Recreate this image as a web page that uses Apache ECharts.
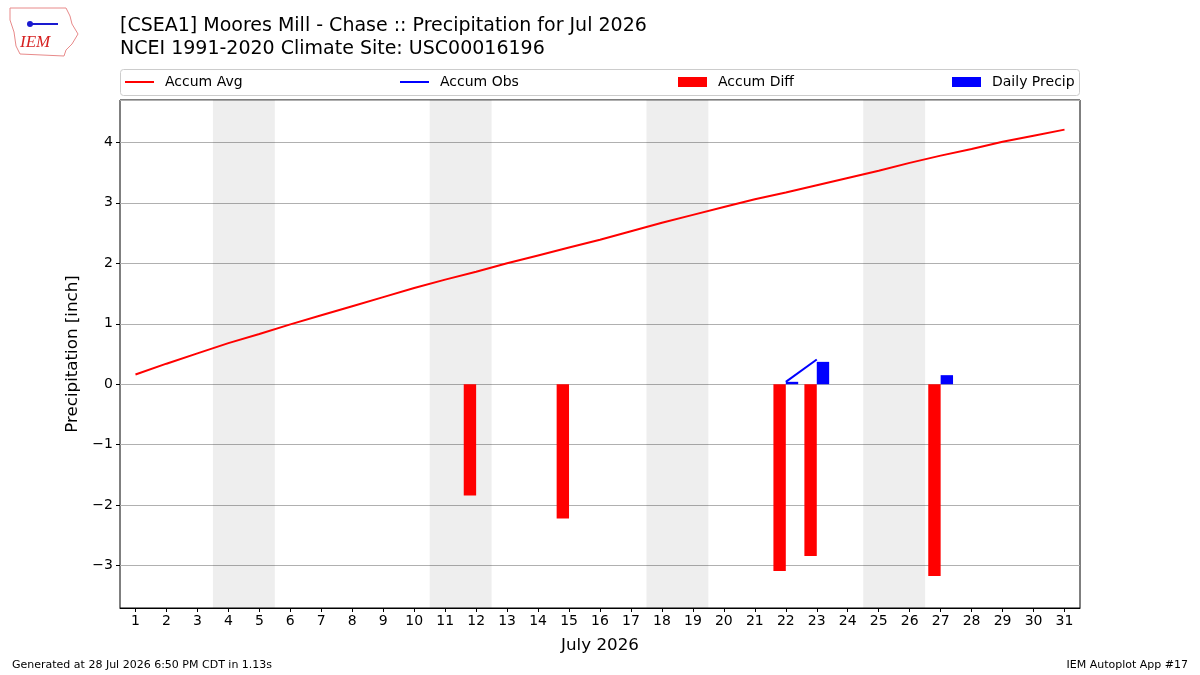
<!DOCTYPE html>
<html>
<head>
<meta charset="utf-8">
<script src="https://cdn.jsdelivr.net/npm/echarts@6/dist/echarts.min.js"></script>
<style>
  html, body { margin: 0; padding: 0; background: #fff; }
  #chart { width: 1200px; height: 675px; }
</style>
</head>
<body>
<div id="chart"></div>
<script>
// July 2026 days
const days = [];
for (let d = 1; d <= 31; d++) days.push(String(d));

// accumulated climatology (inch)
const accumAvg = [0.16, 0.34, 0.51, 0.68, 0.83, 0.99, 1.14, 1.29, 1.44, 1.59,
  1.73, 1.86, 2.0, 2.13, 2.26, 2.39, 2.53, 2.67, 2.8, 2.93,
  3.06, 3.17, 3.29, 3.41, 3.53, 3.66, 3.78, 3.89, 4.01, 4.11, 4.21];

// observed accumulation, only days with a report
const accumObs = [null, null, null, null, null, null, null, null, null, null,
  null, 0, null, null, 0, null, null, null, null, null,
  null, 0.04, 0.41, null, null, null, 0.56, null, null, null, null];

// obs minus climatology
const accumDiff = [null, null, null, null, null, null, null, null, null, null,
  null, -1.84, null, null, -2.22, null, null, null, null, null,
  null, -3.09, -2.84, null, null, null, -3.17, null, null, null, null];

const dailyPrecip = [null, null, null, null, null, null, null, null, null, null,
  null, null, null, null, null, null, null, null, null, null,
  null, 0.04, 0.37, null, null, null, 0.15, null, null, null, null];

// weekend days shaded
const weekends = [[4, 5], [11, 12], [18, 19], [25, 26]];

const chart = echarts.init(document.getElementById("chart"));
const font = "DejaVu Sans";

function legendAt(left, name, h) {
  return {
    left: left,
    top: 75,
    padding: 0,
    data: [{ name: name, icon: "rect" }],
    itemWidth: 29,
    itemHeight: h,
    itemGap: 0,
    textStyle: { fontFamily: font, fontSize: 14, color: "#000", padding: [0, 0, 0, 6] },
    selectedMode: false
  };
}

const option = {
  animation: false,
  backgroundColor: "#fff",
  title: [
    {
      text: "[CSEA1] Moores Mill - Chase :: Precipitation for Jul 2026\nNCEI 1991-2020 Climate Site: USC00016196",
      left: 120,
      top: 15,
      padding: 0,
      textStyle: { fontFamily: font, fontSize: 19, fontWeight: "normal", color: "#000", lineHeight: 23 }
    },
    {
      text: "Generated at 28 Jul 2026 6:50 PM CDT in 1.13s",
      left: 12,
      top: 660,
      padding: 0,
      textStyle: { fontFamily: font, fontSize: 11, fontWeight: "normal", color: "#000" }
    },
    {
      text: "IEM Autoplot App #17",
      right: 12,
      top: 660,
      padding: 0,
      textStyle: { fontFamily: font, fontSize: 11, fontWeight: "normal", color: "#000" }
    }
  ],
  graphic: [
    {
      type: "rect",
      shape: { x: 120.5, y: 69.5, width: 959, height: 26, r: 3 },
      style: { fill: "#fff", stroke: "#cccccc", lineWidth: 1 },
      z: -10
    },
    {
      type: "polyline",
      shape: {
        points: [[10, 8], [66, 8], [70, 16], [72, 24], [78, 34], [72, 44], [66, 50], [64, 56], [20, 54], [16, 46], [14, 32], [10, 20], [10, 8]]
      },
      style: { stroke: "#e88a8a", fill: "none", lineWidth: 1 }
    },
    {
      type: "text",
      left: 20,
      top: 34,
      style: { text: "IEM", fill: "#d62020", font: "italic 17px 'Liberation Serif'" }
    },
    {
      type: "polyline",
      shape: { points: [[30, 24], [58, 24]] },
      style: { stroke: "#1a1ad0", lineWidth: 2 }
    },
    {
      type: "circle",
      shape: { cx: 30, cy: 24, r: 3 },
      style: { fill: "#1a1ad0" }
    }
  ],
  legend: [
    legendAt(125, "Accum Avg", 2),
    legendAt(400, "Accum Obs", 2),
    legendAt(678, "Accum Diff", 10),
    legendAt(952, "Daily Precip", 10)
  ],
  grid: {
    left: 120,
    right: 120,
    top: 100,
    bottom: 67,
    show: true,
    borderColor: "#000",
    borderWidth: 1,
    backgroundColor: "transparent"
  },
  xAxis: [
    {
      type: "category",
      data: days,
      boundaryGap: true,
      name: "July 2026",
      nameLocation: "middle",
      nameGap: 29,
      nameTextStyle: { fontFamily: font, fontSize: 16.7, color: "#000" },
      axisLine: { show: true, onZero: false, lineStyle: { color: "#000" } },
      axisTick: { show: true, alignWithLabel: true, length: 4, lineStyle: { color: "#000" } },
      axisLabel: { fontFamily: font, fontSize: 14, color: "#000", margin: 6, interval: 0 },
      splitLine: { show: false }
    },
    {
      type: "value",
      min: 0.5,
      max: 31.5,
      show: false
    }
  ],
  yAxis: {
    type: "value",
    min: -3.7,
    max: 4.7,
    minInterval: 1,
    maxInterval: 1,
    name: "Precipitation [inch]",
    nameLocation: "middle",
    nameRotate: 90,
    nameGap: 36,
    nameTextStyle: { fontFamily: font, fontSize: 16.7, color: "#000" },
    axisLine: { show: false },
    axisTick: { show: true, length: 4, lineStyle: { color: "#000" } },
    axisLabel: {
      fontFamily: font,
      fontSize: 14,
      color: "#000",
      margin: 7,
      showMinLabel: false,
      showMaxLabel: false,
      formatter: v => String(v).replace("-", "\u2212")
    },
    splitLine: { show: true, lineStyle: { color: "#b0b0b0", width: 1 } }
  },
  series: [
    {
      name: "weekend",
      type: "line",
      xAxisIndex: 1,
      data: [],
      silent: true,
      markArea: {
        silent: true,
        itemStyle: { color: "rgba(0,0,0,0.067)" },
        data: weekends.map(w => [{ xAxis: w[0] - 0.5 }, { xAxis: w[1] + 0.5 }])
      }
    },
    {
      name: "Accum Avg",
      type: "line",
      data: accumAvg,
      symbol: "none",
      lineStyle: { color: "#ff0000", width: 2 },
      itemStyle: { color: "#ff0000" },
      z: 6
    },
    {
      name: "Accum Obs",
      type: "line",
      data: accumObs,
      symbol: "none",
      connectNulls: false,
      lineStyle: { color: "#0000ff", width: 2 },
      itemStyle: { color: "#0000ff" },
      z: 6
    },
    {
      name: "Accum Diff",
      type: "bar",
      data: accumDiff,
      barWidth: "40%",
      barGap: "0%",
      itemStyle: { color: "#ff0000" },
      z: 5
    },
    {
      name: "Daily Precip",
      type: "bar",
      data: dailyPrecip,
      barWidth: "40%",
      barGap: "0%",
      itemStyle: { color: "#0000ff" },
      z: 5
    }
  ]
};

chart.setOption(option);
</script>
</body>
</html>
